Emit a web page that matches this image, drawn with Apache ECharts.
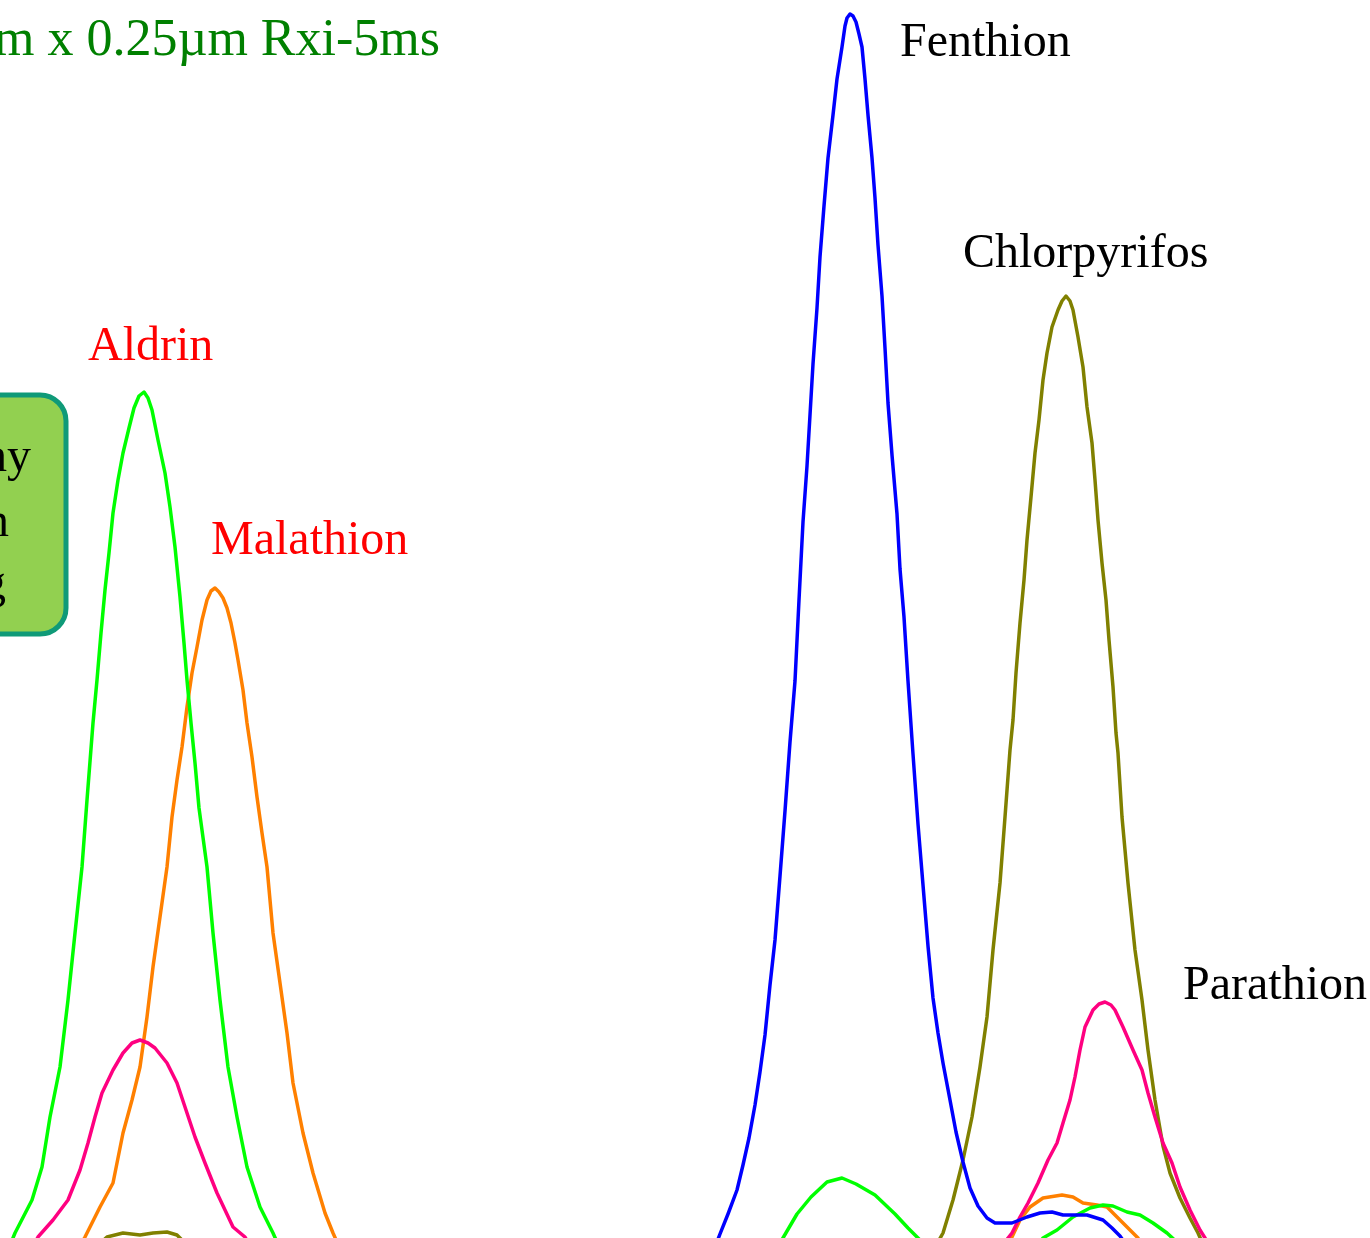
<!DOCTYPE html>
<html>
<head>
<meta charset="utf-8">
<title>Pesticide chromatogram – Rxi-5ms</title>
<script src="https://cdn.jsdelivr.net/npm/echarts@6/dist/echarts.min.js"></script>
<style>
  html, body { margin: 0; padding: 0; background: #ffffff; }
  #chart { width: 1370px; height: 1238px; }
</style>
</head>
<body>
<div id="chart"></div>
<script>
// Retention axis (scan units) and detector response (counts above the visible floor).
// Each trace is a list of [scan, response] pairs.

// Trace carrying the Aldrin peak (green)
const greenTrace = [
  [0, -32], [15, 5], [32, 38], [42, 71], [50, 121], [60, 171], [68, 238], [75, 305],
  [82, 371], [87, 438], [93, 515], [97, 558], [101, 605], [105, 648], [109, 685],
  [113, 725], [118, 758], [123, 785], [129, 810], [134, 830], [139, 842], [144, 846],
  [148, 840], [152, 828], [158, 798], [165, 765], [170, 731], [175, 691], [180, 641],
  [184, 595], [187, 558], [191, 515], [195, 475], [199, 430], [207, 371], [213, 305],
  [220, 238], [228, 171], [237, 121], [247, 71], [260, 31], [273, 5], [285, -22],
  [770, -22], [783, 0], [797, 24], [811, 41], [827, 56], [842, 60], [856, 54],
  [875, 43], [895, 24], [908, 10], [920, -2], [935, -22],
  [1030, -22], [1043, 0], [1057, 8], [1073, 21], [1090, 30], [1103, 33], [1113, 32],
  [1127, 26], [1140, 23], [1153, 15], [1167, 5], [1180, -7], [1195, -22]
];

// Trace carrying the Malathion peak (orange)
const orangeTrace = [
  [70, -27], [85, 1], [100, 31], [113, 55], [123, 105], [132, 138], [140, 171],
  [147, 221], [153, 271], [160, 321], [167, 371], [172, 421], [177, 458], [182, 491],
  [187, 531], [192, 565], [197, 591], [202, 618], [207, 638], [211, 647], [215, 650],
  [219, 646], [223, 640], [227, 630], [231, 615], [235, 595], [238, 578], [243, 548],
  [247, 515], [252, 481], [257, 441], [262, 405], [267, 371], [273, 305], [280, 255],
  [287, 205], [293, 155], [303, 105], [313, 65], [325, 25], [333, 5], [345, -22],
  [1000, -22], [1012, 1], [1020, 18], [1030, 31], [1043, 40], [1062, 43], [1073, 41],
  [1083, 35], [1097, 33], [1107, 31], [1117, 21], [1130, 8], [1138, 0], [1150, -22]
];

// Trace carrying the Parathion peak (pink)
const pinkTrace = [
  [25, -24], [38, 1], [53, 18], [68, 38], [80, 68], [88, 95], [95, 121], [102, 145],
  [113, 168], [123, 185], [132, 195], [140, 198], [148, 195], [155, 190], [167, 175],
  [177, 155], [185, 131], [195, 101], [205, 75], [217, 45], [233, 11], [245, 1], [258, -22],
  [995, -22], [1008, 0], [1012, 5], [1020, 21], [1028, 35], [1038, 55], [1048, 78],
  [1057, 95], [1063, 115], [1070, 138], [1075, 161], [1080, 188], [1085, 211],
  [1093, 228], [1099, 234], [1105, 236], [1111, 233], [1115, 228], [1123, 211],
  [1133, 188], [1142, 168], [1148, 145], [1155, 121], [1163, 95], [1172, 75],
  [1180, 51], [1190, 28], [1200, 8], [1205, 0], [1218, -22]
];

// Trace carrying the Chlorpyrifos peak (olive)
const oliveTrace = [
  [95, -10], [107, 1], [123, 5], [140, 3], [153, 5], [167, 6], [177, 3], [190, -10],
  [928, -22], [943, 5], [953, 38], [963, 78], [972, 121], [980, 171], [987, 221],
  [993, 288], [1000, 355], [1005, 421], [1010, 488], [1013, 518], [1016, 565],
  [1020, 615], [1024, 658], [1027, 698], [1031, 741], [1035, 785], [1039, 818],
  [1043, 858], [1047, 885], [1052, 911], [1058, 928], [1062, 937], [1066, 942],
  [1070, 937], [1073, 928], [1078, 901], [1083, 871], [1087, 831], [1092, 795],
  [1095, 758], [1098, 718], [1102, 675], [1106, 638], [1109, 598], [1113, 551],
  [1116, 505], [1118, 485], [1122, 421], [1128, 355], [1135, 288], [1142, 238],
  [1148, 188], [1155, 138], [1163, 92], [1170, 65], [1180, 40], [1190, 20],
  [1198, 5], [1210, -22]
];

// Trace carrying the Fenthion peak (blue)
const blueTrace = [
  [712, -17], [720, 4], [728, 24], [737, 48], [743, 73], [749, 100], [755, 133],
  [760, 166], [765, 203], [770, 253], [775, 298], [780, 362], [785, 427], [790, 496],
  [795, 557], [799, 638], [803, 716], [807, 772], [810, 823], [813, 874], [817, 930],
  [820, 981], [824, 1032], [828, 1080], [833, 1123], [837, 1159], [842, 1191],
  [845, 1212], [847, 1220], [850, 1224], [853, 1222], [856, 1216], [859, 1204],
  [862, 1191], [865, 1159], [868, 1123], [872, 1080], [875, 1040], [878, 993],
  [882, 942], [885, 890], [888, 835], [892, 783], [897, 724], [900, 669], [904, 621],
  [908, 557], [913, 484], [918, 414], [923, 353], [928, 292], [933, 240], [938, 205],
  [943, 175], [950, 138], [956, 106], [963, 76], [970, 50], [978, 32], [987, 20],
  [995, 15], [1012, 15], [1027, 21], [1040, 25], [1052, 26], [1063, 23],
  [1087, 23], [1103, 18], [1112, 10], [1120, 2], [1132, -15]
];

// Compound names and their label colours
const peakNames = ['Aldrin', 'Malathion', 'Fenthion', 'Chlorpyrifos', 'Parathion'];
const columnText = '30m x 0.25mm x 0.25µm Rxi-5ms';
const calloutLines = ['Gas Chromatography', 'Separation', 'Screening'];

const SERIF = "'Times New Roman', 'Liberation Serif', 'DejaVu Serif', serif";

const chart = echarts.init(document.getElementById('chart'), null, { renderer: 'canvas' });

function trace(data, color, z) {
  return {
    type: 'line',
    data: data,
    showSymbol: false,
    smooth: false,
    clip: true,
    z: z,
    lineStyle: { color: color, width: 3.5, join: 'round' },
    emphasis: { disabled: true }
  };
}

function label(text, x, baseline, color) {
  return {
    type: 'text',
    left: x,
    top: baseline - 38,
    z: 20,
    style: { text: text, fill: color, font: '48px ' + SERIF }
  };
}

function calloutText(text, x, y) {
  return {
    type: 'text',
    z: 16,
    style: { x: x, y: y, text: text, fill: '#000000', font: '48px ' + SERIF, align: 'right' }
  };
}

chart.setOption({
  animation: false,
  backgroundColor: '#ffffff',
  grid: { left: 0, right: 0, top: 0, bottom: 0 },
  xAxis: { type: 'value', min: 0, max: 1370, show: false },
  yAxis: { type: 'value', min: 0, max: 1238, show: false },
  series: [
    trace(oliveTrace, '#808000', 2),
    trace(orangeTrace, '#ff8000', 3),
    trace(greenTrace, '#00ff00', 4),
    trace(pinkTrace, '#ff0080', 5),
    trace(blueTrace, '#0000ff', 6)
  ],
  graphic: [
    {
      type: 'text',
      right: 1370 - 440,
      top: 58 - 43,
      z: 20,
      style: { text: columnText, fill: '#008000', font: '52px ' + SERIF, align: 'right' }
    },
    {
      type: 'rect',
      z: 15,
      shape: { x: -40, y: 395, width: 106, height: 239, r: 26 },
      style: { fill: '#92d050', stroke: '#0f9a78', lineWidth: 5 }
    },
    calloutText(calloutLines[0], 31, 434),
    calloutText(calloutLines[1], 9, 499),
    calloutText(calloutLines[2], 6, 561),
    label(peakNames[0], 88, 361, '#ff0000'),
    label(peakNames[1], 211, 555, '#ff0000'),
    label(peakNames[2], 900, 57, '#000000'),
    label(peakNames[3], 963, 268, '#000000'),
    label(peakNames[4], 1183, 1000, '#000000')
  ]
});
</script>
</body>
</html>
